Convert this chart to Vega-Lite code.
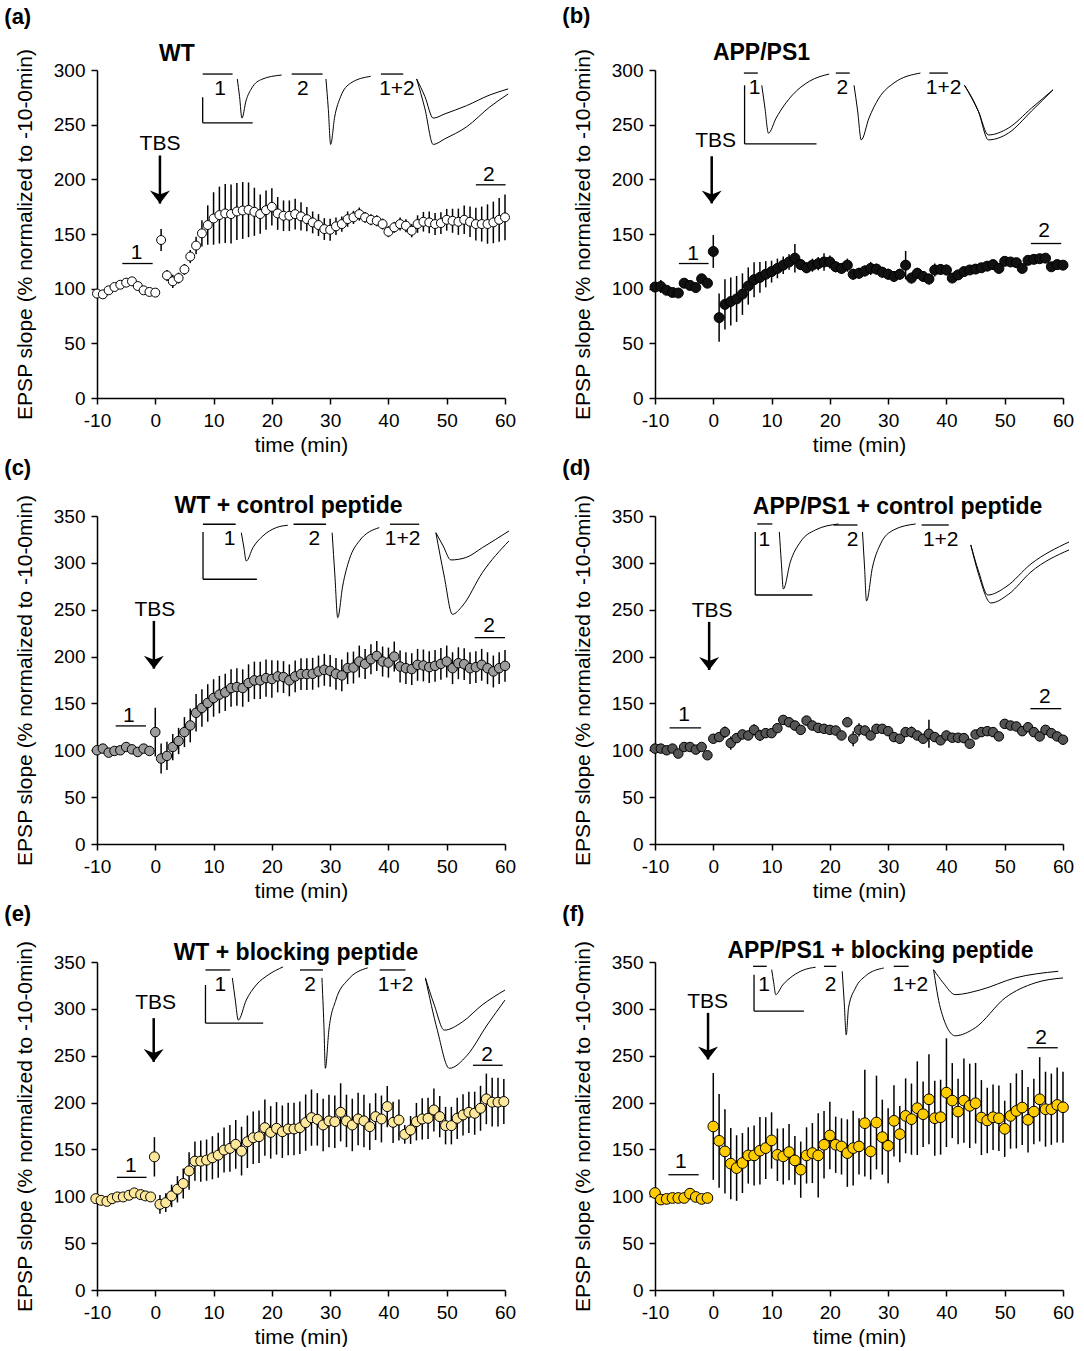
{
"$schema": "https://vega.github.io/schema/vega-lite/v6.json",
"padding": {"left": 4, "top": 4, "right": 0, "bottom": 0},
"spacing": 2,
"datasets": {
"a_pts": [{"t":-10,"v":95.5,"e":3},{"t":-9,"v":94.8,"e":3},{"t":-8,"v":98.5,"e":3},{"t":-7,"v":101.5,"e":3},{"t":-6,"v":103.6,"e":3},{"t":-5,"v":105.5,"e":3},{"t":-4,"v":106.7,"e":3},{"t":-3,"v":102.4,"e":3},{"t":-2,"v":98.5,"e":3},{"t":-1,"v":97,"e":3},{"t":0,"v":96.4,"e":3},{"t":1,"v":144.5,"e":10},{"t":2,"v":112.1,"e":5},{"t":3,"v":106.7,"e":6},{"t":4,"v":109.7,"e":5},{"t":5,"v":117.6,"e":5},{"t":6,"v":129.4,"e":6},{"t":7,"v":139.4,"e":8},{"t":8,"v":150.6,"e":12},{"t":9,"v":158.2,"e":18},{"t":10,"v":164.2,"e":24},{"t":11,"v":167.3,"e":26},{"t":12,"v":168.8,"e":27},{"t":13,"v":168.2,"e":27},{"t":14,"v":170.6,"e":26},{"t":15,"v":171.5,"e":26},{"t":16,"v":172.1,"e":25},{"t":17,"v":170.3,"e":22},{"t":18,"v":168.2,"e":18},{"t":19,"v":171.8,"e":18},{"t":20,"v":174.8,"e":17},{"t":21,"v":168.8,"e":15},{"t":22,"v":166.7,"e":14},{"t":23,"v":166.7,"e":14},{"t":24,"v":168.2,"e":14},{"t":25,"v":166.1,"e":13},{"t":26,"v":163.6,"e":11},{"t":27,"v":160.6,"e":10},{"t":28,"v":158.2,"e":10},{"t":29,"v":154.5,"e":10},{"t":30,"v":153.9,"e":10},{"t":31,"v":157,"e":8},{"t":32,"v":159.1,"e":7},{"t":33,"v":163.6,"e":7},{"t":34,"v":165.2,"e":6},{"t":35,"v":168.2,"e":6},{"t":36,"v":165.2,"e":5},{"t":37,"v":163,"e":5},{"t":38,"v":162.1,"e":5},{"t":39,"v":159.1,"e":5},{"t":40,"v":152.1,"e":5},{"t":41,"v":156.1,"e":5},{"t":42,"v":159.1,"e":6},{"t":43,"v":157.6,"e":6},{"t":44,"v":153,"e":6},{"t":45,"v":159.1,"e":8},{"t":46,"v":161.2,"e":9},{"t":47,"v":160.6,"e":10},{"t":48,"v":159.1,"e":10},{"t":49,"v":160,"e":10},{"t":50,"v":163,"e":10},{"t":51,"v":162.1,"e":11},{"t":52,"v":161.2,"e":12},{"t":53,"v":163,"e":13},{"t":54,"v":161.2,"e":14},{"t":55,"v":159.1,"e":15},{"t":56,"v":159.1,"e":16},{"t":57,"v":159.1,"e":18},{"t":58,"v":160.6,"e":19},{"t":59,"v":163,"e":20},{"t":60,"v":165.2,"e":21}],
"a_rules": [{"t":-5.66,"t2":-0.45,"v":123,"v2":123},{"t":55,"t2":60.1,"v":195,"v2":195},{"t":8.13,"t2":13.26,"v":296.3,"v2":296.3},{"t":23.4,"t2":28.7,"v":296.3,"v2":296.3},{"t":38.71,"t2":42.54,"v":296.3,"v2":296.3},{"t":8.13,"t2":8.13,"v":275.1,"v2":251.7},{"t":8.13,"t2":16.71,"v":251.7,"v2":251.7}],
"a_arrow": [{"t":0.8,"v":221.8,"v2":177.8}],
"a_txt": [{"t":-3.19,"v":132.5,"label":"1"},{"t":57.24,"v":203.6,"label":"2"},{"t":0.81,"v":232.5,"label":"TBS"},{"t":11.1,"v":282.7,"label":"1"},{"t":25.33,"v":282.7,"label":"2"},{"t":41.46,"v":282.7,"label":"1+2"}],
"a_title": [{"t":3.72,"v":314.6,"label":"WT"}],
"a_tr": [{"g":"1","t":14.07,"v":291.8},{"g":"1","t":14.46,"v":275.6},{"g":"1","t":14.87,"v":256},{"g":"1","t":15.56,"v":271.7},{"g":"1","t":16.57,"v":283.6},{"g":"1","t":18.28,"v":291.5},{"g":"1","t":21.68,"v":295.4},
{"g":"2","t":29.28,"v":291.8},{"g":"2","t":29.68,"v":264.8},{"g":"2","t":30.09,"v":231.9},{"g":"2","t":30.77,"v":256.9},{"g":"2","t":31.8,"v":275.6},{"g":"2","t":33.52,"v":288},{"g":"2","t":36.95,"v":294.2},
{"g":"s","t":44.84,"v":291.8},{"g":"s","t":46.27,"v":275.6},{"g":"s","t":47.68,"v":256},{"g":"s","t":49.69,"v":259.9},{"g":"s","t":53.41,"v":267.4},{"g":"s","t":57.41,"v":277.2},{"g":"s","t":60.55,"v":282.7},
{"g":"b","t":44.84,"v":291.8},{"g":"b","t":46.27,"v":264.4},{"g":"b","t":47.68,"v":231.9},{"g":"b","t":49.69,"v":237.1},{"g":"b","t":53.41,"v":248},{"g":"b","t":57.41,"v":266.3},{"g":"b","t":60.55,"v":278.1}],

"b_pts": [{"t":-10,"v":101.5,"e":4},{"t":-9,"v":102,"e":6},{"t":-8,"v":98.5,"e":4},{"t":-7,"v":96.5,"e":4},{"t":-6,"v":96,"e":4},{"t":-5,"v":105,"e":4},{"t":-4,"v":103,"e":4},{"t":-3,"v":101,"e":4},{"t":-2,"v":109,"e":4},{"t":-1,"v":105,"e":4},{"t":0,"v":134,"e":15},{"t":1,"v":73.5,"e":22},{"t":2,"v":85.6,"e":23},{"t":3,"v":88.2,"e":22},{"t":4,"v":90.6,"e":21},{"t":5,"v":95,"e":19},{"t":6,"v":102.4,"e":17},{"t":7,"v":108.2,"e":16},{"t":8,"v":110.3,"e":14},{"t":9,"v":113.2,"e":12},{"t":10,"v":115.6,"e":10},{"t":11,"v":118.5,"e":9},{"t":12,"v":121.5,"e":8},{"t":13,"v":124.4,"e":7},{"t":14,"v":127.9,"e":13},{"t":15,"v":122,"e":5},{"t":16,"v":119.1,"e":5},{"t":17,"v":121.5,"e":6},{"t":18,"v":122.9,"e":6},{"t":19,"v":124.4,"e":8},{"t":20,"v":124.4,"e":6},{"t":21,"v":120,"e":5},{"t":22,"v":118.5,"e":5},{"t":23,"v":121.5,"e":6},{"t":24,"v":113.2,"e":5},{"t":25,"v":114.1,"e":5},{"t":26,"v":116.2,"e":5},{"t":27,"v":118.5,"e":6},{"t":28,"v":117.9,"e":5},{"t":29,"v":115,"e":5},{"t":30,"v":113.2,"e":5},{"t":31,"v":111.2,"e":5},{"t":32,"v":113.2,"e":5},{"t":33,"v":121.5,"e":13},{"t":34,"v":109.7,"e":5},{"t":35,"v":114.1,"e":5},{"t":36,"v":111.2,"e":5},{"t":37,"v":108.8,"e":5},{"t":38,"v":117.1,"e":6},{"t":39,"v":117.6,"e":5},{"t":40,"v":117.1,"e":5},{"t":41,"v":109.7,"e":4},{"t":42,"v":112.6,"e":4},{"t":43,"v":115.6,"e":4},{"t":44,"v":117.1,"e":4},{"t":45,"v":117.9,"e":4},{"t":46,"v":119.1,"e":4},{"t":47,"v":120.6,"e":4},{"t":48,"v":122,"e":4},{"t":49,"v":118.5,"e":4},{"t":50,"v":125,"e":4},{"t":51,"v":124.4,"e":4},{"t":52,"v":123.8,"e":4},{"t":53,"v":118.5,"e":4},{"t":54,"v":125.9,"e":4},{"t":55,"v":126.8,"e":4},{"t":56,"v":127.4,"e":4},{"t":57,"v":127.9,"e":4},{"t":58,"v":120,"e":4},{"t":59,"v":122,"e":4},{"t":60,"v":121.5,"e":4}],
"b_rules": [{"t":-5.9,"t2":-0.8,"v":123,"v2":123},{"t":54.5,"t2":59.7,"v":141.3,"v2":141.3},{"t":5.25,"t2":7.64,"v":297.2,"v2":297.2},{"t":21.02,"t2":23.41,"v":297.2,"v2":297.2},{"t":37.07,"t2":40.25,"v":297.2,"v2":297.2},{"t":5.37,"t2":5.37,"v":286,"v2":232.4},{"t":5.37,"t2":17.71,"v":232.4,"v2":232.4}],
"b_arrow": [{"t":-0.27,"v":221.1,"v2":178}],
"b_txt": [{"t":-3.46,"v":132.1,"label":"1"},{"t":56.76,"v":152.3,"label":"2"},{"t":0.41,"v":234.9,"label":"TBS"},{"t":7.07,"v":283.5,"label":"1"},{"t":22.15,"v":283.5,"label":"2"},{"t":39.51,"v":283.5,"label":"1+2"}],
"b_title": [{"t":8.27,"v":315.6,"label":"APP/PS1"}],
"b_tr": [{"g":"1","t":8.32,"v":286},{"g":"1","t":8.87,"v":265.1},{"g":"1","t":9.46,"v":242.2},{"g":"1","t":10.78,"v":256},{"g":"1","t":13.61,"v":277.3},{"g":"1","t":16.46,"v":289.6},{"g":"1","t":19.88,"v":296.3},
{"g":"2","t":24.15,"v":286},{"g":"2","t":24.75,"v":263.3},{"g":"2","t":25.39,"v":236.1},{"g":"2","t":26.71,"v":256},{"g":"2","t":28.42,"v":274.3},{"g":"2","t":30.98,"v":288.1},{"g":"2","t":35.54,"v":297.2},
{"g":"s","t":43.1,"v":286},{"g":"s","t":45.49,"v":262.1},{"g":"s","t":47.2,"v":240.6},{"g":"s","t":50.61,"v":246.8},{"g":"s","t":54.59,"v":265.1},{"g":"s","t":58.29,"v":281.9},
{"g":"b","t":43.1,"v":286},{"g":"b","t":45.49,"v":262.1},{"g":"b","t":47.2,"v":236.1},{"g":"b","t":50.61,"v":242.2},{"g":"b","t":54.59,"v":262.4},{"g":"b","t":58.29,"v":281.9}],

"c_pts": [{"t":-10,"v":100,"e":4},{"t":-9,"v":101.8,"e":4},{"t":-8,"v":97.5,"e":4},{"t":-7,"v":99.3,"e":4},{"t":-6,"v":100,"e":4},{"t":-5,"v":103.5,"e":4},{"t":-4,"v":101,"e":4},{"t":-3,"v":98.2,"e":4},{"t":-2,"v":101.8,"e":4},{"t":-1,"v":99.3,"e":4},{"t":0,"v":119.4,"e":26},{"t":1,"v":91.2,"e":16},{"t":2,"v":94,"e":15},{"t":3,"v":103.5,"e":14},{"t":4,"v":109.9,"e":14},{"t":5,"v":119.4,"e":16},{"t":6,"v":126.5,"e":18},{"t":7,"v":140,"e":20},{"t":8,"v":145.2,"e":20},{"t":9,"v":150.5,"e":20},{"t":10,"v":155.8,"e":20},{"t":11,"v":159.4,"e":20},{"t":12,"v":161.8,"e":20},{"t":13,"v":166.4,"e":20},{"t":14,"v":167.5,"e":20},{"t":15,"v":166.4,"e":20},{"t":16,"v":171.7,"e":20},{"t":17,"v":174.6,"e":20},{"t":18,"v":174.6,"e":20},{"t":19,"v":177,"e":20},{"t":20,"v":176,"e":20},{"t":21,"v":178.8,"e":17},{"t":22,"v":178.1,"e":17},{"t":23,"v":174.6,"e":17},{"t":24,"v":178.8,"e":17},{"t":25,"v":181.3,"e":17},{"t":26,"v":181.3,"e":17},{"t":27,"v":181.6,"e":17},{"t":28,"v":184.1,"e":17},{"t":29,"v":185.9,"e":17},{"t":30,"v":184.8,"e":17},{"t":31,"v":181.6,"e":17},{"t":32,"v":179.9,"e":17},{"t":33,"v":187.6,"e":17},{"t":34,"v":188.3,"e":17},{"t":35,"v":194.7,"e":17},{"t":36,"v":192.2,"e":16},{"t":37,"v":197.2,"e":16},{"t":38,"v":200.7,"e":16},{"t":39,"v":194.7,"e":16},{"t":40,"v":193.6,"e":16},{"t":41,"v":200,"e":16},{"t":42,"v":189.4,"e":17},{"t":43,"v":187.6,"e":17},{"t":44,"v":186.6,"e":17},{"t":45,"v":191.2,"e":17},{"t":46,"v":190.5,"e":17},{"t":47,"v":188.7,"e":17},{"t":48,"v":190.1,"e":17},{"t":49,"v":192.2,"e":17},{"t":50,"v":194.7,"e":17},{"t":51,"v":187.6,"e":17},{"t":52,"v":192.9,"e":17},{"t":53,"v":191.9,"e":17},{"t":54,"v":187.6,"e":17},{"t":55,"v":188.7,"e":17},{"t":56,"v":191.2,"e":17},{"t":57,"v":187.6,"e":17},{"t":58,"v":184.1,"e":17},{"t":59,"v":187.6,"e":17},{"t":60,"v":190.1,"e":17}],
"c_rules": [{"t":-6.8,"t2":-1.6,"v":126,"v2":126},{"t":54.8,"t2":60,"v":220.2,"v2":220.2},{"t":8.19,"t2":13.79,"v":341.2,"v2":341.2},{"t":23.72,"t2":29.31,"v":341.2,"v2":341.2},{"t":40.27,"t2":45.28,"v":341.2,"v2":341.2},{"t":8.19,"t2":8.19,"v":333,"v2":282.5},{"t":8.19,"t2":17.43,"v":282.5,"v2":282.5}],
"c_arrow": [{"t":-0.24,"v":238,"v2":187.1}],
"c_txt": [{"t":-4.52,"v":136.6,"label":"1"},{"t":57.26,"v":232.7,"label":"2"},{"t":-0.07,"v":249.7,"label":"TBS"},{"t":12.76,"v":325.2,"label":"1"},{"t":27.31,"v":325.2,"label":"2"},{"t":42.42,"v":325.2,"label":"1+2"}],
"c_title": [{"t":22.86,"v":360.7,"label":"WT + control peptide"}],
"c_tr": [{"g":"1","t":14.76,"v":332.2},{"g":"1","t":15.16,"v":318},{"g":"1","t":15.62,"v":302},{"g":"1","t":16.75,"v":316.2},{"g":"1","t":18.46,"v":328.7},{"g":"1","t":20.75,"v":337.6},{"g":"1","t":22.74,"v":340.1},
{"g":"2","t":30.34,"v":332.2},{"g":"2","t":30.82,"v":286},{"g":"2","t":31.3,"v":241.5},{"g":"2","t":32.15,"v":275.3},{"g":"2","t":33.3,"v":303.8},{"g":"2","t":35.01,"v":323.4},{"g":"2","t":38.43,"v":337.6},
{"g":"s","t":48.14,"v":332.2},{"g":"s","t":49.39,"v":318},{"g":"s","t":50.71,"v":303.1},{"g":"s","t":53.27,"v":305.6},{"g":"s","t":56.11,"v":316.2},{"g":"s","t":60.68,"v":334},
{"g":"b","t":48.14,"v":332.2},{"g":"b","t":49.56,"v":286},{"g":"b","t":50.98,"v":245.1},{"g":"b","t":52.69,"v":254},{"g":"b","t":56.11,"v":289.5},{"g":"b","t":60.68,"v":323.4}],

"d_pts": [{"t":-10,"v":101.8,"e":3},{"t":-9,"v":101.8,"e":3},{"t":-8,"v":100,"e":3},{"t":-7,"v":101.8,"e":3},{"t":-6,"v":96.5,"e":3},{"t":-5,"v":103.5,"e":3},{"t":-4,"v":103.5,"e":4},{"t":-3,"v":100.7,"e":3},{"t":-2,"v":103.5,"e":3},{"t":-1,"v":94.7,"e":3},{"t":0,"v":112.3,"e":4},{"t":1,"v":114.1,"e":5},{"t":2,"v":119.4,"e":6},{"t":3,"v":107.7,"e":7},{"t":4,"v":113,"e":5},{"t":5,"v":116.9,"e":5},{"t":6,"v":115.8,"e":5},{"t":7,"v":121.8,"e":6},{"t":8,"v":115.8,"e":6},{"t":9,"v":118.3,"e":5},{"t":10,"v":118.3,"e":5},{"t":11,"v":123.6,"e":5},{"t":12,"v":132.4,"e":5},{"t":13,"v":129.9,"e":5},{"t":14,"v":126.4,"e":5},{"t":15,"v":121.8,"e":5},{"t":16,"v":131.7,"e":5},{"t":17,"v":126.4,"e":5},{"t":18,"v":123.9,"e":5},{"t":19,"v":122.9,"e":5},{"t":20,"v":121.8,"e":5},{"t":21,"v":121.1,"e":5},{"t":22,"v":115.8,"e":5},{"t":23,"v":129.9,"e":5},{"t":24,"v":112.3,"e":8},{"t":25,"v":121.8,"e":7},{"t":26,"v":121.1,"e":5},{"t":27,"v":115.8,"e":5},{"t":28,"v":122.9,"e":5},{"t":29,"v":122.9,"e":5},{"t":30,"v":120.4,"e":5},{"t":31,"v":114.1,"e":5},{"t":32,"v":112.3,"e":5},{"t":33,"v":119.4,"e":5},{"t":34,"v":119.4,"e":6},{"t":35,"v":115.8,"e":5},{"t":36,"v":112.3,"e":5},{"t":37,"v":117.6,"e":15},{"t":38,"v":114.1,"e":5},{"t":39,"v":110.6,"e":5},{"t":40,"v":115.8,"e":5},{"t":41,"v":113.4,"e":5},{"t":42,"v":113.4,"e":5},{"t":43,"v":113,"e":5},{"t":44,"v":107,"e":4},{"t":45,"v":116.9,"e":4},{"t":46,"v":119.4,"e":5},{"t":47,"v":120.4,"e":5},{"t":48,"v":119.4,"e":5},{"t":49,"v":114.8,"e":4},{"t":50,"v":128.2,"e":5},{"t":51,"v":126.4,"e":5},{"t":52,"v":125.4,"e":5},{"t":53,"v":120.4,"e":5},{"t":54,"v":124.6,"e":5},{"t":55,"v":119.4,"e":5},{"t":56,"v":114.8,"e":5},{"t":57,"v":121.8,"e":5},{"t":58,"v":118.3,"e":5},{"t":59,"v":114.8,"e":5},{"t":60,"v":111.3,"e":5}],
"d_rules": [{"t":-7.5,"t2":-2.1,"v":124,"v2":124},{"t":54.4,"t2":59.7,"v":144.4,"v2":144.4},{"t":7.54,"t2":10.12,"v":341.5,"v2":341.5},{"t":20.62,"t2":24.74,"v":340.4,"v2":340.4},{"t":35.75,"t2":40.4,"v":340.4,"v2":340.4},{"t":7.2,"t2":7.2,"v":333,"v2":265.7},{"t":7.2,"t2":17,"v":265.7,"v2":265.7}],
"d_arrow": [{"t":-0.71,"v":237,"v2":185.7}],
"d_txt": [{"t":-5.01,"v":137.7,"label":"1"},{"t":56.9,"v":156.9,"label":"2"},{"t":-0.2,"v":248.7,"label":"TBS"},{"t":8.75,"v":324.4,"label":"1"},{"t":23.88,"v":324.4,"label":"2"},{"t":39.02,"v":324.4,"label":"1+2"}],
"d_title": [{"t":31.62,"v":359.7,"label":"APP/PS1 + control peptide"}],
"d_tr": [{"g":"1","t":11.33,"v":333},{"g":"1","t":11.67,"v":301},{"g":"1","t":12.02,"v":272.1},{"g":"1","t":13.22,"v":301},{"g":"1","t":14.94,"v":322.3},{"g":"1","t":17.52,"v":335.1},{"g":"1","t":21.48,"v":341.5},
{"g":"2","t":25.6,"v":333},{"g":"2","t":25.95,"v":295.6},{"g":"2","t":26.29,"v":259.3},{"g":"2","t":27.32,"v":295.6},{"g":"2","t":28.7,"v":320.2},{"g":"2","t":30.94,"v":335.1},{"g":"2","t":34.72,"v":341.5},
{"g":"s","t":44.18,"v":319.1},{"g":"s","t":45.55,"v":290.3},{"g":"s","t":47.1,"v":265.7},{"g":"s","t":50.2,"v":274.3},{"g":"s","t":54.5,"v":298.8},{"g":"s","t":61.03,"v":322.3},
{"g":"b","t":44.18,"v":319.1},{"g":"b","t":45.55,"v":287.1},{"g":"b","t":47.62,"v":257.2},{"g":"b","t":50.72,"v":266.8},{"g":"b","t":54.5,"v":290.3},{"g":"b","t":61.03,"v":313.8}],

"e_pts": [{"t":-10.2,"v":97.5,"e":3},{"t":-9.3,"v":95.7,"e":3},{"t":-8.3,"v":94.6,"e":3},{"t":-7.4,"v":97.5,"e":3},{"t":-6.5,"v":99.3,"e":3},{"t":-5.5,"v":99.3,"e":3},{"t":-4.5,"v":101.1,"e":3},{"t":-3.6,"v":103.6,"e":3},{"t":-2.5,"v":101.8,"e":3},{"t":-1.7,"v":100.4,"e":3},{"t":-0.8,"v":99.3,"e":3},{"t":-0.15,"v":142.1,"e":21},{"t":0.8,"v":91.4,"e":10},{"t":1.8,"v":93.2,"e":10},{"t":2.8,"v":100.4,"e":12},{"t":3.8,"v":107.5,"e":14},{"t":4.8,"v":113.6,"e":16},{"t":5.8,"v":127.1,"e":20},{"t":6.8,"v":137.5,"e":21},{"t":7.8,"v":137.5,"e":22},{"t":8.8,"v":138.6,"e":22},{"t":9.8,"v":141.1,"e":23},{"t":10.8,"v":143.9,"e":24},{"t":11.8,"v":149.3,"e":24},{"t":12.8,"v":151.1,"e":25},{"t":13.8,"v":155.4,"e":26},{"t":14.8,"v":148.2,"e":26},{"t":15.8,"v":158.2,"e":28},{"t":16.8,"v":162.5,"e":28},{"t":17.8,"v":163.6,"e":28},{"t":18.8,"v":173.2,"e":30},{"t":19.8,"v":168.2,"e":28},{"t":20.8,"v":172.5,"e":28},{"t":21.8,"v":168.9,"e":28},{"t":22.8,"v":171.8,"e":28},{"t":23.8,"v":171.8,"e":28},{"t":24.8,"v":173.2,"e":28},{"t":25.8,"v":178.6,"e":30},{"t":26.8,"v":183.9,"e":30},{"t":27.8,"v":182.1,"e":28},{"t":28.8,"v":176.1,"e":28},{"t":29.8,"v":180.4,"e":28},{"t":30.8,"v":179.6,"e":28},{"t":31.8,"v":189.6,"e":31},{"t":32.8,"v":180.4,"e":28},{"t":33.8,"v":176.1,"e":28},{"t":34.8,"v":182.5,"e":28},{"t":35.8,"v":180.4,"e":28},{"t":36.8,"v":174.3,"e":25},{"t":37.8,"v":185,"e":25},{"t":38.8,"v":182.5,"e":25},{"t":39.8,"v":195.7,"e":22},{"t":40.8,"v":178.9,"e":22},{"t":41.8,"v":181.4,"e":22},{"t":42.8,"v":166.1,"e":10},{"t":43.8,"v":170.7,"e":15},{"t":44.8,"v":179.6,"e":20},{"t":45.8,"v":182.5,"e":22},{"t":46.8,"v":183.2,"e":22},{"t":47.8,"v":192.1,"e":23},{"t":48.8,"v":185,"e":22},{"t":49.8,"v":175.4,"e":20},{"t":50.8,"v":175.4,"e":20},{"t":51.8,"v":183.2,"e":22},{"t":52.8,"v":186.8,"e":22},{"t":53.8,"v":189.6,"e":22},{"t":54.8,"v":188.6,"e":23},{"t":55.8,"v":193.9,"e":24},{"t":56.8,"v":203.9,"e":27},{"t":57.8,"v":200.4,"e":26},{"t":58.8,"v":200.4,"e":26},{"t":59.8,"v":201.1,"e":24}],
"e_rules": [{"t":-6.6,"t2":-1.5,"v":120.2,"v2":120.2},{"t":54.5,"t2":59.6,"v":239.8,"v2":239.8},{"t":8.61,"t2":12.88,"v":341.5,"v2":341.5},{"t":24.83,"t2":28.76,"v":341.5,"v2":341.5},{"t":38.49,"t2":42.93,"v":341.5,"v2":341.5},{"t":8.61,"t2":8.61,"v":325.5,"v2":284.8},{"t":8.61,"t2":18.51,"v":284.8,"v2":284.8}],
"e_arrow": [{"t":-0.27,"v":290.1,"v2":243.4}],
"e_txt": [{"t":-4.2,"v":132.8,"label":"1"},{"t":56.93,"v":250.5,"label":"2"},{"t":0.07,"v":306.2,"label":"TBS"},{"t":11.17,"v":325.5,"label":"1"},{"t":26.54,"v":325.5,"label":"2"},{"t":41.22,"v":325.5,"label":"1+2"}],
"e_title": [{"t":24.14,"v":359.7,"label":"WT + blocking peptide"}],
"e_tr": [{"g":"1","t":13.22,"v":333},{"g":"1","t":13.73,"v":309.4},{"g":"1","t":14.24,"v":288},{"g":"1","t":15.61,"v":309.4},{"g":"1","t":17.32,"v":325.5},{"g":"1","t":19.37,"v":336.2},{"g":"1","t":21.93,"v":344.8},
{"g":"2","t":28.59,"v":333},{"g":"2","t":28.93,"v":282.7},{"g":"2","t":29.18,"v":236.6},{"g":"2","t":29.78,"v":277.3},{"g":"2","t":30.98,"v":309.4},{"g":"2","t":33.03,"v":330.8},{"g":"2","t":36.44,"v":343.7},
{"g":"s","t":46.34,"v":333},{"g":"s","t":47.87,"v":304.1},{"g":"s","t":49.58,"v":277.3},{"g":"s","t":52.66,"v":285.9},{"g":"s","t":56.07,"v":304.1},{"g":"s","t":60,"v":320.1},
{"g":"b","t":46.34,"v":333},{"g":"b","t":48.39,"v":277.3},{"g":"b","t":50.44,"v":236.6},{"g":"b","t":53.51,"v":250.5},{"g":"b","t":56.93,"v":282.7},{"g":"b","t":60,"v":309.4}],

"f_pts": [{"t":-10,"v":103.5,"e":3},{"t":-9,"v":96.5,"e":3},{"t":-8,"v":97.2,"e":3},{"t":-7,"v":98.2,"e":3},{"t":-6,"v":98.2,"e":3},{"t":-5,"v":98.2,"e":3},{"t":-4,"v":102.8,"e":3},{"t":-3,"v":99.3,"e":3},{"t":-2,"v":97.2,"e":3},{"t":-1,"v":98.2,"e":3},{"t":0,"v":174.5,"e":57},{"t":1,"v":159.2,"e":50},{"t":2,"v":147.9,"e":45},{"t":3,"v":134.8,"e":38},{"t":4,"v":130.1,"e":35},{"t":5,"v":135.5,"e":32},{"t":6,"v":143.6,"e":30},{"t":7,"v":143.6,"e":32},{"t":8,"v":148.6,"e":36},{"t":9,"v":151.4,"e":33},{"t":10,"v":159.6,"e":30},{"t":11,"v":144.3,"e":28},{"t":12,"v":142.6,"e":30},{"t":13,"v":147.2,"e":30},{"t":14,"v":138.3,"e":26},{"t":15,"v":128.4,"e":30},{"t":16,"v":143.6,"e":30},{"t":17,"v":146.1,"e":32},{"t":18,"v":143.6,"e":45},{"t":19,"v":155,"e":36},{"t":20,"v":164.9,"e":36},{"t":21,"v":155,"e":30},{"t":22,"v":153.2,"e":30},{"t":23,"v":146.1,"e":36},{"t":24,"v":151.4,"e":40},{"t":25,"v":153.2,"e":30},{"t":26,"v":178,"e":57},{"t":27,"v":147.9,"e":30},{"t":28,"v":178.7,"e":50},{"t":29,"v":163.1,"e":40},{"t":30,"v":153.9,"e":40},{"t":31,"v":180.5,"e":38},{"t":32,"v":166.3,"e":30},{"t":33,"v":185.8,"e":40},{"t":34,"v":182.3,"e":38},{"t":35,"v":194,"e":50},{"t":36,"v":187.6,"e":35},{"t":37,"v":203.5,"e":48},{"t":38,"v":183.3,"e":40},{"t":39,"v":184.4,"e":40},{"t":40,"v":210.6,"e":58},{"t":41,"v":202.1,"e":40},{"t":42,"v":190.4,"e":35},{"t":43,"v":202.1,"e":45},{"t":44,"v":196.5,"e":45},{"t":45,"v":199.3,"e":43},{"t":46,"v":184,"e":40},{"t":47,"v":180.9,"e":35},{"t":48,"v":184.4,"e":35},{"t":49,"v":183.3,"e":35},{"t":50,"v":172,"e":30},{"t":51,"v":185.8,"e":35},{"t":52,"v":191.1,"e":40},{"t":53,"v":194.7,"e":40},{"t":54,"v":181.6,"e":35},{"t":55,"v":190.4,"e":35},{"t":56,"v":203.5,"e":45},{"t":57,"v":192.9,"e":40},{"t":58,"v":192.9,"e":38},{"t":59,"v":197.5,"e":40},{"t":60,"v":195,"e":38}],
"f_rules": [{"t":-7.7,"t2":-2.5,"v":123,"v2":123},{"t":53.9,"t2":59.1,"v":258.5,"v2":258.5},{"t":6.82,"t2":9.17,"v":345.4,"v2":345.4},{"t":18.98,"t2":21.1,"v":345.4,"v2":345.4},{"t":30.96,"t2":33.52,"v":345.4,"v2":345.4},{"t":6.99,"t2":6.99,"v":336.5,"v2":297.6},{"t":6.99,"t2":15.55,"v":297.6,"v2":297.6}],
"f_arrow": [{"t":-0.9,"v":295.7,"v2":246}],
"f_txt": [{"t":-5.55,"v":136.2,"label":"1"},{"t":56.23,"v":269.1,"label":"2"},{"t":-0.98,"v":307.4,"label":"TBS"},{"t":8.71,"v":325.9,"label":"1"},{"t":20.12,"v":325.9,"label":"2"},{"t":33.81,"v":325.9,"label":"1+2"}],
"f_title": [{"t":28.68,"v":361.7,"label":"APP/PS1 + blocking peptide"}],
"f_tr": [{"g":"1","t":10.02,"v":341.8},{"g":"1","t":10.37,"v":327.7},{"g":"1","t":10.71,"v":315.2},{"g":"1","t":11.91,"v":325.5},{"g":"1","t":13.62,"v":335.1},{"g":"1","t":15.5,"v":341.5},{"g":"1","t":17.55,"v":344.4},
{"g":"2","t":22.12,"v":340.1},{"g":"2","t":22.47,"v":306.4},{"g":"2","t":22.81,"v":272.3},{"g":"2","t":23.2,"v":301.1},{"g":"2","t":24.4,"v":322.3},{"g":"2","t":26.11,"v":335.1},{"g":"2","t":29.24,"v":343.6},
{"g":"s","t":37.8,"v":341.8},{"g":"s","t":39.46,"v":327.7},{"g":"s","t":41.51,"v":315.2},{"g":"s","t":45.79,"v":320.2},{"g":"s","t":51.78,"v":333},{"g":"s","t":59.2,"v":340.1},
{"g":"b","t":37.8,"v":341.8},{"g":"b","t":38.95,"v":301.1},{"g":"b","t":41.51,"v":271.3},{"g":"b","t":44.94,"v":279.8},{"g":"b","t":50.07,"v":311.7},{"g":"b","t":55.21,"v":327.7},{"g":"b","t":60,"v":333}]
},
"vconcat": [
{"hconcat": [
{"width": 408, "height": 328, "title": {"text": "(a)", "dx": -10},
 "encoding": {"x": {"field": "t", "type": "quantitative", "scale": {"domain": [-10, 60], "nice": false, "zero": false}, "axis": {"values": [-10,0,10,20,30,40,50,60], "title": "time (min)", "labelExpr": "'' + datum.value"}},
  "y": {"field": "v", "type": "quantitative", "scale": {"domain": [0, 300], "nice": false, "zero": false}, "axis": {"values": [0,50,100,150,200,250,300], "title": "EPSP slope (% normalized to -10-0min)"}}},
 "layer": [
  {"data": {"values": [{}]}, "mark": {"type": "rule", "color": "#222", "strokeWidth": 1.1}, "encoding": {"x": {"datum": -10}, "x2": {"datum": 60}, "y": {"datum": 100}}},
  {"data": {"name": "a_rules"}, "mark": {"type": "rule", "color": "#000", "strokeWidth": 1.3}, "encoding": {"x2": {"field": "t2"}, "y2": {"field": "v2"}}},
  {"data": {"name": "a_tr"}, "mark": {"type": "line", "color": "#000", "strokeWidth": 1, "interpolate": "monotone"}, "encoding": {"detail": {"field": "g"}}},
  {"data": {"name": "a_pts"}, "mark": {"type": "errorbar", "ticks": false, "thickness": 1.5, "color": "#000"}, "encoding": {"yError": {"field": "e"}}},
  {"data": {"name": "a_pts"}, "mark": {"type": "circle", "size": 80, "fill": "#ffffff", "stroke": "#000", "strokeWidth": 1, "opacity": 1}},
  {"data": {"name": "a_arrow"}, "mark": {"type": "rule", "color": "#000", "strokeWidth": 2.5}, "encoding": {"y2": {"field": "v2"}}},
  {"data": {"name": "a_arrow"}, "mark": {"type": "point", "shape": "M-1,-1.3L0,0L1,-1.3L0,-0.9Z", "size": 400, "filled": true, "color": "#000", "opacity": 1, "strokeWidth": 0}, "encoding": {"y": {"field": "v2"}}},
  {"data": {"name": "a_txt"}, "mark": {"type": "text", "fontSize": 21, "color": "#000"}, "encoding": {"text": {"field": "label"}}},
  {"data": {"name": "a_title"}, "mark": {"type": "text", "fontSize": 23, "fontWeight": "bold", "color": "#000"}, "encoding": {"text": {"field": "label"}}}
 ]},
{"width": 408, "height": 328, "title": {"text": "(b)", "dx": -10},
 "encoding": {"x": {"field": "t", "type": "quantitative", "scale": {"domain": [-10, 60], "nice": false, "zero": false}, "axis": {"values": [-10,0,10,20,30,40,50,60], "title": "time (min)", "labelExpr": "'' + datum.value"}},
  "y": {"field": "v", "type": "quantitative", "scale": {"domain": [0, 300], "nice": false, "zero": false}, "axis": {"values": [0,50,100,150,200,250,300], "title": "EPSP slope (% normalized to -10-0min)"}}},
 "layer": [
  {"data": {"values": [{}]}, "mark": {"type": "rule", "color": "#222", "strokeWidth": 1.1}, "encoding": {"x": {"datum": -10}, "x2": {"datum": 60}, "y": {"datum": 100}}},
  {"data": {"name": "b_rules"}, "mark": {"type": "rule", "color": "#000", "strokeWidth": 1.3}, "encoding": {"x2": {"field": "t2"}, "y2": {"field": "v2"}}},
  {"data": {"name": "b_tr"}, "mark": {"type": "line", "color": "#000", "strokeWidth": 1, "interpolate": "monotone"}, "encoding": {"detail": {"field": "g"}}},
  {"data": {"name": "b_pts"}, "mark": {"type": "errorbar", "ticks": false, "thickness": 1.5, "color": "#000"}, "encoding": {"yError": {"field": "e"}}},
  {"data": {"name": "b_pts"}, "mark": {"type": "circle", "size": 100, "fill": "#111111", "stroke": "#000", "strokeWidth": 1, "opacity": 1}},
  {"data": {"name": "b_arrow"}, "mark": {"type": "rule", "color": "#000", "strokeWidth": 2.5}, "encoding": {"y2": {"field": "v2"}}},
  {"data": {"name": "b_arrow"}, "mark": {"type": "point", "shape": "M-1,-1.3L0,0L1,-1.3L0,-0.9Z", "size": 400, "filled": true, "color": "#000", "opacity": 1, "strokeWidth": 0}, "encoding": {"y": {"field": "v2"}}},
  {"data": {"name": "b_txt"}, "mark": {"type": "text", "fontSize": 21, "color": "#000"}, "encoding": {"text": {"field": "label"}}},
  {"data": {"name": "b_title"}, "mark": {"type": "text", "fontSize": 23, "fontWeight": "bold", "color": "#000"}, "encoding": {"text": {"field": "label"}}}
 ]}
], "spacing": 46},
{"hconcat": [
{"width": 408, "height": 328, "title": {"text": "(c)", "dx": -10},
 "encoding": {"x": {"field": "t", "type": "quantitative", "scale": {"domain": [-10, 60], "nice": false, "zero": false}, "axis": {"values": [-10,0,10,20,30,40,50,60], "title": "time (min)", "labelExpr": "'' + datum.value"}},
  "y": {"field": "v", "type": "quantitative", "scale": {"domain": [0, 350], "nice": false, "zero": false}, "axis": {"values": [0,50,100,150,200,250,300,350], "title": "EPSP slope (% normalized to -10-0min)"}}},
 "layer": [
  {"data": {"values": [{}]}, "mark": {"type": "rule", "color": "#222", "strokeWidth": 1.1}, "encoding": {"x": {"datum": -10}, "x2": {"datum": 60}, "y": {"datum": 100}}},
  {"data": {"name": "c_rules"}, "mark": {"type": "rule", "color": "#000", "strokeWidth": 1.3}, "encoding": {"x2": {"field": "t2"}, "y2": {"field": "v2"}}},
  {"data": {"name": "c_tr"}, "mark": {"type": "line", "color": "#000", "strokeWidth": 1, "interpolate": "monotone"}, "encoding": {"detail": {"field": "g"}}},
  {"data": {"name": "c_pts"}, "mark": {"type": "errorbar", "ticks": false, "thickness": 1.5, "color": "#000"}, "encoding": {"yError": {"field": "e"}}},
  {"data": {"name": "c_pts"}, "mark": {"type": "circle", "size": 90, "fill": "#9c9c9c", "stroke": "#000", "strokeWidth": 1, "opacity": 1}},
  {"data": {"name": "c_arrow"}, "mark": {"type": "rule", "color": "#000", "strokeWidth": 2.5}, "encoding": {"y2": {"field": "v2"}}},
  {"data": {"name": "c_arrow"}, "mark": {"type": "point", "shape": "M-1,-1.3L0,0L1,-1.3L0,-0.9Z", "size": 400, "filled": true, "color": "#000", "opacity": 1, "strokeWidth": 0}, "encoding": {"y": {"field": "v2"}}},
  {"data": {"name": "c_txt"}, "mark": {"type": "text", "fontSize": 21, "color": "#000"}, "encoding": {"text": {"field": "label"}}},
  {"data": {"name": "c_title"}, "mark": {"type": "text", "fontSize": 23, "fontWeight": "bold", "color": "#000"}, "encoding": {"text": {"field": "label"}}}
 ]},
{"width": 408, "height": 328, "title": {"text": "(d)", "dx": -10},
 "encoding": {"x": {"field": "t", "type": "quantitative", "scale": {"domain": [-10, 60], "nice": false, "zero": false}, "axis": {"values": [-10,0,10,20,30,40,50,60], "title": "time (min)", "labelExpr": "'' + datum.value"}},
  "y": {"field": "v", "type": "quantitative", "scale": {"domain": [0, 350], "nice": false, "zero": false}, "axis": {"values": [0,50,100,150,200,250,300,350], "title": "EPSP slope (% normalized to -10-0min)"}}},
 "layer": [
  {"data": {"values": [{}]}, "mark": {"type": "rule", "color": "#222", "strokeWidth": 1.1}, "encoding": {"x": {"datum": -10}, "x2": {"datum": 60}, "y": {"datum": 100}}},
  {"data": {"name": "d_rules"}, "mark": {"type": "rule", "color": "#000", "strokeWidth": 1.3}, "encoding": {"x2": {"field": "t2"}, "y2": {"field": "v2"}}},
  {"data": {"name": "d_tr"}, "mark": {"type": "line", "color": "#000", "strokeWidth": 1, "interpolate": "monotone"}, "encoding": {"detail": {"field": "g"}}},
  {"data": {"name": "d_pts"}, "mark": {"type": "errorbar", "ticks": false, "thickness": 1.5, "color": "#000"}, "encoding": {"yError": {"field": "e"}}},
  {"data": {"name": "d_pts"}, "mark": {"type": "circle", "size": 90, "fill": "#555555", "stroke": "#000", "strokeWidth": 1, "opacity": 1}},
  {"data": {"name": "d_arrow"}, "mark": {"type": "rule", "color": "#000", "strokeWidth": 2.5}, "encoding": {"y2": {"field": "v2"}}},
  {"data": {"name": "d_arrow"}, "mark": {"type": "point", "shape": "M-1,-1.3L0,0L1,-1.3L0,-0.9Z", "size": 400, "filled": true, "color": "#000", "opacity": 1, "strokeWidth": 0}, "encoding": {"y": {"field": "v2"}}},
  {"data": {"name": "d_txt"}, "mark": {"type": "text", "fontSize": 21, "color": "#000"}, "encoding": {"text": {"field": "label"}}},
  {"data": {"name": "d_title"}, "mark": {"type": "text", "fontSize": 23, "fontWeight": "bold", "color": "#000"}, "encoding": {"text": {"field": "label"}}}
 ]}
], "spacing": 46},
{"hconcat": [
{"width": 408, "height": 328, "title": {"text": "(e)", "dx": -10},
 "encoding": {"x": {"field": "t", "type": "quantitative", "scale": {"domain": [-10, 60], "nice": false, "zero": false}, "axis": {"values": [-10,0,10,20,30,40,50,60], "title": "time (min)", "labelExpr": "'' + datum.value"}},
  "y": {"field": "v", "type": "quantitative", "scale": {"domain": [0, 350], "nice": false, "zero": false}, "axis": {"values": [0,50,100,150,200,250,300,350], "title": "EPSP slope (% normalized to -10-0min)"}}},
 "layer": [
  {"data": {"values": [{}]}, "mark": {"type": "rule", "color": "#222", "strokeWidth": 1.1}, "encoding": {"x": {"datum": -10}, "x2": {"datum": 60}, "y": {"datum": 100}}},
  {"data": {"name": "e_rules"}, "mark": {"type": "rule", "color": "#000", "strokeWidth": 1.3}, "encoding": {"x2": {"field": "t2"}, "y2": {"field": "v2"}}},
  {"data": {"name": "e_tr"}, "mark": {"type": "line", "color": "#000", "strokeWidth": 1, "interpolate": "monotone"}, "encoding": {"detail": {"field": "g"}}},
  {"data": {"name": "e_pts"}, "mark": {"type": "errorbar", "ticks": false, "thickness": 1.5, "color": "#000"}, "encoding": {"yError": {"field": "e"}}},
  {"data": {"name": "e_pts"}, "mark": {"type": "circle", "size": 100, "fill": "#fde79b", "stroke": "#000", "strokeWidth": 1, "opacity": 1}},
  {"data": {"name": "e_arrow"}, "mark": {"type": "rule", "color": "#000", "strokeWidth": 2.5}, "encoding": {"y2": {"field": "v2"}}},
  {"data": {"name": "e_arrow"}, "mark": {"type": "point", "shape": "M-1,-1.3L0,0L1,-1.3L0,-0.9Z", "size": 400, "filled": true, "color": "#000", "opacity": 1, "strokeWidth": 0}, "encoding": {"y": {"field": "v2"}}},
  {"data": {"name": "e_txt"}, "mark": {"type": "text", "fontSize": 21, "color": "#000"}, "encoding": {"text": {"field": "label"}}},
  {"data": {"name": "e_title"}, "mark": {"type": "text", "fontSize": 23, "fontWeight": "bold", "color": "#000"}, "encoding": {"text": {"field": "label"}}}
 ]},
{"width": 408, "height": 328, "title": {"text": "(f)", "dx": -10},
 "encoding": {"x": {"field": "t", "type": "quantitative", "scale": {"domain": [-10, 60], "nice": false, "zero": false}, "axis": {"values": [-10,0,10,20,30,40,50,60], "title": "time (min)", "labelExpr": "'' + datum.value"}},
  "y": {"field": "v", "type": "quantitative", "scale": {"domain": [0, 350], "nice": false, "zero": false}, "axis": {"values": [0,50,100,150,200,250,300,350], "title": "EPSP slope (% normalized to -10-0min)"}}},
 "layer": [
  {"data": {"values": [{}]}, "mark": {"type": "rule", "color": "#222", "strokeWidth": 1.1}, "encoding": {"x": {"datum": -10}, "x2": {"datum": 60}, "y": {"datum": 100}}},
  {"data": {"name": "f_rules"}, "mark": {"type": "rule", "color": "#000", "strokeWidth": 1.3}, "encoding": {"x2": {"field": "t2"}, "y2": {"field": "v2"}}},
  {"data": {"name": "f_tr"}, "mark": {"type": "line", "color": "#000", "strokeWidth": 1, "interpolate": "monotone"}, "encoding": {"detail": {"field": "g"}}},
  {"data": {"name": "f_pts"}, "mark": {"type": "errorbar", "ticks": false, "thickness": 1.5, "color": "#000"}, "encoding": {"yError": {"field": "e"}}},
  {"data": {"name": "f_pts"}, "mark": {"type": "circle", "size": 115, "fill": "#ffcc00", "stroke": "#000", "strokeWidth": 1, "opacity": 1}},
  {"data": {"name": "f_arrow"}, "mark": {"type": "rule", "color": "#000", "strokeWidth": 2.5}, "encoding": {"y2": {"field": "v2"}}},
  {"data": {"name": "f_arrow"}, "mark": {"type": "point", "shape": "M-1,-1.3L0,0L1,-1.3L0,-0.9Z", "size": 400, "filled": true, "color": "#000", "opacity": 1, "strokeWidth": 0}, "encoding": {"y": {"field": "v2"}}},
  {"data": {"name": "f_txt"}, "mark": {"type": "text", "fontSize": 21, "color": "#000"}, "encoding": {"text": {"field": "label"}}},
  {"data": {"name": "f_title"}, "mark": {"type": "text", "fontSize": 23, "fontWeight": "bold", "color": "#000"}, "encoding": {"text": {"field": "label"}}}
 ]}
], "spacing": 46}
],
"config": {
 "font": "Liberation Sans",
 "view": {"stroke": null},
 "title": {"fontSize": 22, "fontWeight": "bold", "anchor": "start", "frame": "bounds", "color": "#000", "offset": 14},
 "axis": {"domainColor": "#000", "domainWidth": 1.5, "tickColor": "#000", "tickWidth": 1.5, "tickSize": 6, "labelFontSize": 19, "titleFontSize": 21, "titleFontWeight": "normal", "labelColor": "#000", "titleColor": "#000", "grid": false, "labelFlush": false, "labelOverlap": false},
 "axisY": {"labelPadding": 6, "titlePadding": 18},
 "axisX": {"labelPadding": 7, "titlePadding": 4}
}
}
